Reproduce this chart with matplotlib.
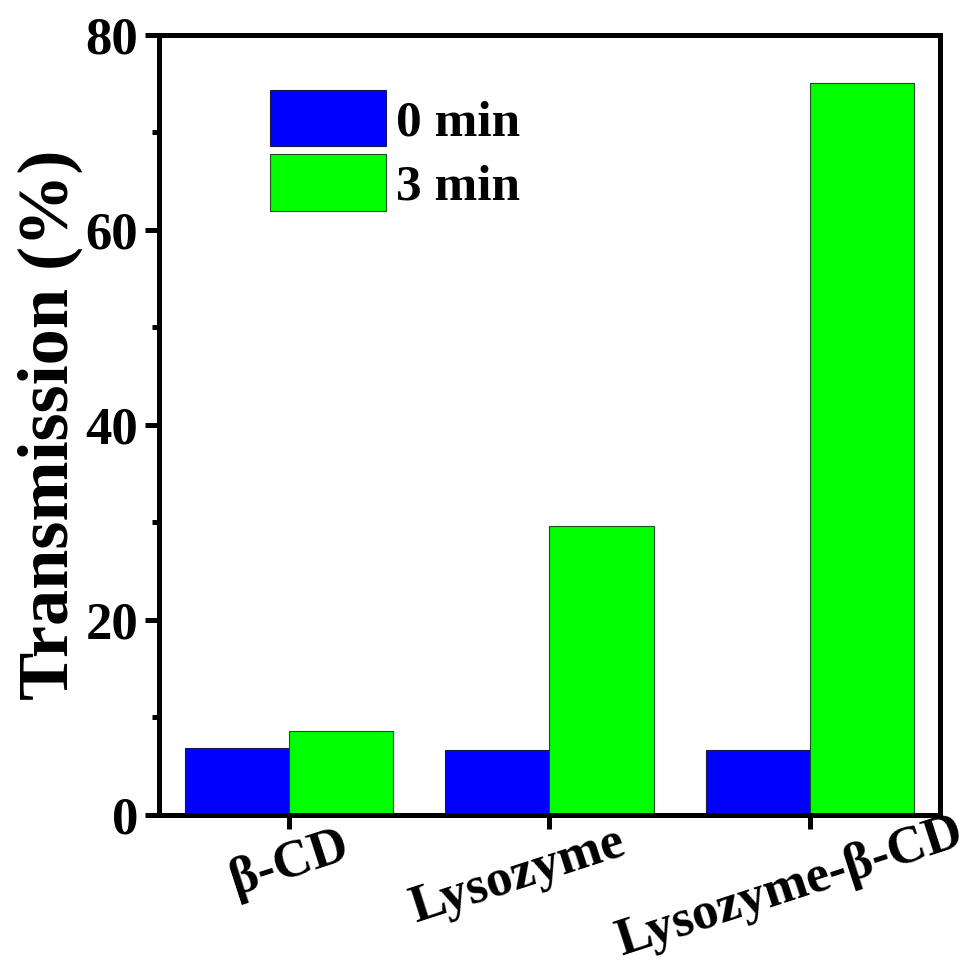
import numpy as np
import matplotlib
matplotlib.use("Agg")
import matplotlib.pyplot as plt
import matplotlib.transforms as mtransforms
from matplotlib.ticker import MultipleLocator

plt.rcParams['font.family'] = ['Liberation Serif', 'DejaVu Serif']
plt.rcParams['font.weight'] = 'bold'

categories = ["β-CD", "Lysozyme", "Lysozyme-β-CD"]
t0 = [6.9, 6.7, 6.7]
t3 = [8.6, 29.6, 75.1]
series_names = ["0 min", "3 min"]

fig = plt.figure(figsize=(9.76, 9.71), dpi=100)
ax = fig.add_axes([0.163, 0.1607, 0.800, 0.8033])

x = np.arange(len(categories))
w = 0.4
ax.bar(x - w / 2, t0, w, color="#0000ff", edgecolor="#1a1a4a", linewidth=0.8, label=series_names[0])
ax.bar(x + w / 2, t3, w, color="#00ff00", edgecolor="#1f4f1f", linewidth=0.8, label=series_names[1])

ax.set_xlim(-0.5, 2.5)
ax.set_ylim(0, 80)
ax.set_xticks(x)
ax.set_xticklabels(categories, rotation=18, ha="center")
ax.yaxis.set_major_locator(MultipleLocator(20))
ax.yaxis.set_minor_locator(MultipleLocator(10))

for s in ax.spines.values():
    s.set_linewidth(3.6)

ax.tick_params(axis="both", which="major", direction="out", length=10, width=3.6, labelsize=38)
ax.tick_params(axis="y", which="major", pad=5)
ax.tick_params(axis="y", which="minor", direction="out", length=5, width=3.6)
ax.tick_params(axis="x", which="major", pad=1)
ax.tick_params(top=False, right=False)

# nudge the rotated category labels a little, as in the original
shifts = [(0, 8), (-32, 12), (-20, 22)]
for lab, (dx, dy) in zip(ax.get_xticklabels(), shifts):
    off = mtransforms.ScaledTranslation(dx / 100, dy / 100, fig.dpi_scale_trans)
    lab.set_transform(lab.get_transform() + off)

ax.set_ylabel("Transmission (%)", fontsize=52, fontweight="bold", labelpad=2)

ax.legend(loc="upper left", bbox_to_anchor=(0.142, 0.93), borderaxespad=0, borderpad=0,
          frameon=False, fontsize=37, handlelength=2.25, handleheight=1.32,
          handletextpad=0.2, labelspacing=0.15)

fig.savefig("out.png", dpi=100)
